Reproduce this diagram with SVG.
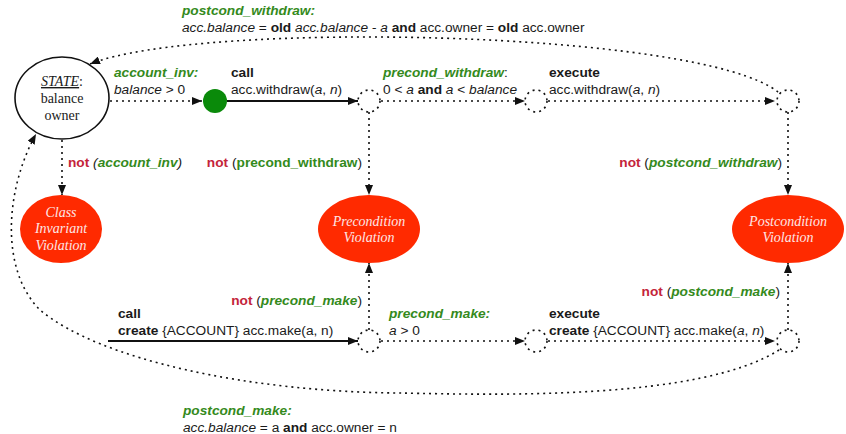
<svg xmlns="http://www.w3.org/2000/svg" width="846" height="434" viewBox="0 0 846 434">
<style>
text{font-family:"Liberation Sans",Arial,sans-serif;font-size:13.7px;fill:#1a1a1a}
.b{font-weight:bold}
.i{font-style:italic}
.g{fill:#348a1c;font-weight:bold;font-style:italic}
.gn{fill:#348a1c;font-weight:bold}
.r{fill:#c4243a;font-weight:bold}
text.tm{font-family:"Liberation Serif","Times New Roman",serif;font-size:14px;text-anchor:middle}
text.vt{font-family:"Liberation Serif","Times New Roman",serif;font-size:14px;font-style:italic;fill:#fde6e6;text-anchor:middle}
.dot{fill:none;stroke:#111;stroke-width:1.6;stroke-dasharray:2 4}
.sol{fill:none;stroke:#111;stroke-width:2.2}
.viol{fill:#ff2a00}
.pt{fill:#fff;stroke:#111;stroke-width:1.6;stroke-dasharray:2 4}
</style>
<defs>
<marker id="ah" markerUnits="userSpaceOnUse" markerWidth="11" markerHeight="8" refX="10" refY="4" orient="auto"><path d="M0,0 L10,4 L0,8 z" fill="#111"/></marker>
</defs>

<g id="connectors">
<line class="dot" x1="110" y1="101" x2="202" y2="101" marker-end="url(#ah)"/>
<line class="sol" x1="227" y1="101" x2="358" y2="101" marker-end="url(#ah)"/>
<line class="dot" x1="381" y1="101" x2="525" y2="101" marker-end="url(#ah)"/>
<line class="dot" x1="548" y1="101" x2="775" y2="101" marker-end="url(#ah)"/>
<path class="dot" d="M778,92 C700,30 200,20 90,64" marker-end="url(#ah)"/>
<line class="dot" x1="62" y1="140" x2="62" y2="195" marker-end="url(#ah)"/>
<line class="dot" x1="369" y1="112" x2="369" y2="195" marker-end="url(#ah)"/>
<line class="dot" x1="788" y1="112" x2="788" y2="195" marker-end="url(#ah)"/>
<line class="sol" x1="108" y1="341" x2="358" y2="341" marker-end="url(#ah)"/>
<line class="dot" x1="381" y1="341" x2="525" y2="341" marker-end="url(#ah)"/>
<line class="dot" x1="548" y1="341" x2="775" y2="341" marker-end="url(#ah)"/>
<line class="dot" x1="369" y1="330" x2="369" y2="263" marker-end="url(#ah)"/>
<line class="dot" x1="788" y1="330" x2="788" y2="263" marker-end="url(#ah)"/>
<path class="dot" d="M779,350 C700,400 500,395 400,393 C250,392 100,360 40,310 C0,270 5,190 36,134" marker-end="url(#ah)"/>
</g>

<g id="state">
<ellipse cx="62" cy="98" rx="47" ry="41" fill="#fff" stroke="#111" stroke-width="1.6"/>
<text class="tm" x="62" y="86" style="font-family:'Liberation Serif',serif"><tspan font-style="italic" text-decoration="underline">STATE</tspan>:</text>
<text class="tm" x="62" y="103" style="font-family:'Liberation Serif',serif">balance</text>
<text class="tm" x="62" y="120" style="font-family:'Liberation Serif',serif">owner</text>
</g>

<g id="start"><circle cx="215" cy="101" r="12" fill="#0a8a0a"/></g>
<g id="pw"><circle class="pt" cx="369" cy="101" r="11"/></g>
<g id="ew"><circle class="pt" cx="536" cy="101" r="11"/></g>
<g id="qw"><circle class="pt" cx="788" cy="101" r="11"/></g>
<g id="pm"><circle class="pt" cx="369" cy="341" r="11"/></g>
<g id="em"><circle class="pt" cx="536" cy="341" r="11"/></g>
<g id="qm"><circle class="pt" cx="788" cy="341" r="11"/></g>

<g id="civ">
<ellipse class="viol" cx="61" cy="229" rx="41" ry="34"/>
<text class="vt" x="61" y="217" style="font-family:'Liberation Serif',serif">Class</text>
<text class="vt" x="61" y="233" style="font-family:'Liberation Serif',serif">Invariant</text>
<text class="vt" x="61" y="250" style="font-family:'Liberation Serif',serif">Violation</text>
</g>
<g id="prev">
<ellipse class="viol" cx="369" cy="229" rx="51" ry="34"/>
<text class="vt" x="369" y="226" style="font-family:'Liberation Serif',serif">Precondition</text>
<text class="vt" x="369" y="242" style="font-family:'Liberation Serif',serif">Violation</text>
</g>
<g id="postv">
<ellipse class="viol" cx="788" cy="229" rx="56" ry="34"/>
<text class="vt" x="788" y="226" style="font-family:'Liberation Serif',serif">Postcondition</text>
<text class="vt" x="788" y="242" style="font-family:'Liberation Serif',serif">Violation</text>
</g>

<g id="labels">
<text x="182" y="15"><tspan class="g">postcond_withdraw:</tspan></text>
<text x="182" y="32"><tspan class="i">acc.balance</tspan><tspan> = </tspan><tspan class="b">old</tspan><tspan> </tspan><tspan class="i">acc.balance - a</tspan><tspan> </tspan><tspan class="b">and</tspan><tspan> acc.owner = </tspan><tspan class="b">old</tspan><tspan> acc.owner</tspan></text>
<text x="114" y="77"><tspan class="g">account_inv:</tspan></text>
<text x="114" y="94"><tspan class="i">balance</tspan><tspan> &gt; 0</tspan></text>
<text x="231" y="77" class="b">call</text>
<text x="231" y="94"><tspan>acc.withdraw(</tspan><tspan class="i">a</tspan><tspan>, </tspan><tspan class="i">n</tspan><tspan>)</tspan></text>
<text x="383" y="77"><tspan class="g">precond_withdraw</tspan><tspan>:</tspan></text>
<text x="383" y="94"><tspan>0 &lt; </tspan><tspan class="i">a</tspan><tspan> </tspan><tspan class="b">and</tspan><tspan> </tspan><tspan class="i">a</tspan><tspan> &lt; </tspan><tspan class="i">balance</tspan></text>
<text x="549" y="77" class="b">execute</text>
<text x="549" y="94"><tspan>acc.withdraw(</tspan><tspan class="i">a</tspan><tspan>, </tspan><tspan class="i">n</tspan><tspan>)</tspan></text>

<text x="68" y="167"><tspan class="r">not</tspan><tspan class="i"> (</tspan><tspan class="g">account_inv</tspan><tspan class="i">)</tspan></text>
<text x="362" y="167" text-anchor="end"><tspan class="r">not</tspan><tspan> (</tspan><tspan class="gn">precond_withdraw</tspan><tspan>)</tspan></text>
<text x="782" y="167" text-anchor="end"><tspan class="r">not</tspan><tspan> (</tspan><tspan class="g">postcond_withdraw</tspan><tspan>)</tspan></text>
<text x="362" y="305" text-anchor="end"><tspan class="r">not</tspan><tspan> (</tspan><tspan class="g">precond_make</tspan><tspan>)</tspan></text>
<text x="780" y="296" text-anchor="end"><tspan class="r">not</tspan><tspan> (</tspan><tspan class="g">postcond_make</tspan><tspan>)</tspan></text>

<text x="118" y="318" class="b">call</text>
<text x="118" y="335"><tspan class="b">create</tspan><tspan> {ACCOUNT} acc.make(a, n)</tspan></text>
<text x="389" y="318"><tspan class="g">precond_make:</tspan></text>
<text x="389" y="335"><tspan class="i">a</tspan><tspan> &gt; 0</tspan></text>
<text x="549" y="318" class="b">execute</text>
<text x="549" y="335"><tspan class="b">create</tspan><tspan> {ACCOUNT} acc.make(</tspan><tspan class="i">a</tspan><tspan>, </tspan><tspan class="i">n</tspan><tspan>)</tspan></text>

<text x="183" y="415"><tspan class="g">postcond_make:</tspan></text>
<text x="183" y="432"><tspan class="i">acc.balance</tspan><tspan> = a </tspan><tspan class="b">and</tspan><tspan> acc.owner = n</tspan></text>
</g>
</svg>
